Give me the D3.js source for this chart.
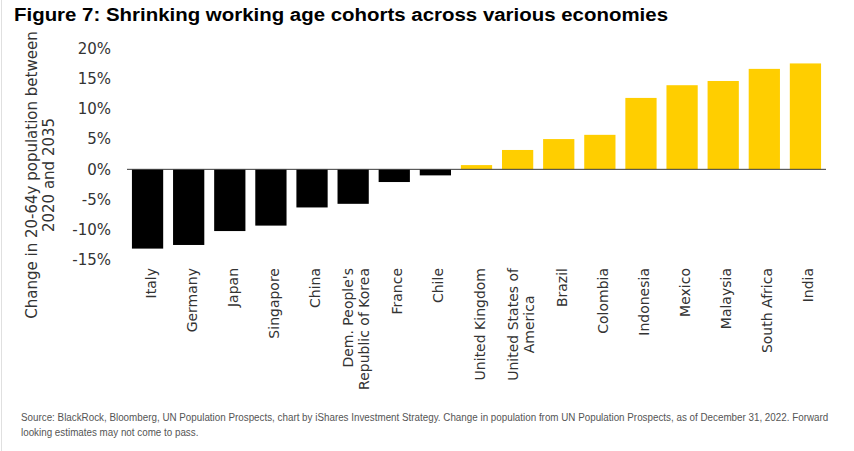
<!DOCTYPE html>
<html>
<head>
<meta charset="utf-8">
<script src="https://cdn.jsdelivr.net/npm/d3@7"></script>
<style>
  body { margin: 0; background: #fff; }
  .chart text { font-family: "DejaVu Sans", Verdana, sans-serif; fill: #333; }
  .chart .title { font-family: "Liberation Sans", Arial, sans-serif; font-weight: bold; fill: #000; }
  .chart .source { font-family: "Liberation Sans Narrow", "Liberation Sans", Arial, sans-serif; fill: #555; }
</style>
</head>
<body>
<svg class="chart"></svg>
<script>
// data
var countries = ["Italy", "Germany", "Japan", "Singapore", "China",
                 "Dem. People's\nRepublic of Korea", "France", "Chile", "United Kingdom",
                 "United States of\nAmerica", "Brazil", "Colombia", "Indonesia", "Mexico",
                 "Malaysia", "South Africa", "India"];
var change = [-13.1, -12.5, -10.2, -9.3, -6.3, -5.7, -2.1, -1.0, 0.7,
              3.2, 5.0, 5.7, 11.8, 13.9, 14.6, 16.6, 17.5];
var yTicks = [-15, -10, -5, 0, 5, 10, 15, 20];

var titleText = "Figure 7: Shrinking working age cohorts across various economies";
var yLabel = ["Change in 20-64y population between", "2020 and 2035"];
var sourceLines = [
  "Source: BlackRock, Bloomberg, UN Population Prospects, chart by iShares Investment Strategy. Change in population from UN Population Prospects, as of December 31, 2022. Forward",
  "looking estimates may not come to pass."
];

var width = 854,
    height = 451,
    plot = {left: 127, right: 826, top: 48.3, bottom: 260.1};

var x = d3.scaleBand()
  .domain(countries)
  .range([plot.left, plot.right])
  .paddingInner(0.24)
  .paddingOuter(0.12);

var y = d3.scaleLinear()
  .domain([-15, 20])
  .range([plot.bottom, plot.top]);

var svg = d3.select('.chart')
    .attr("width", width)
    .attr("height", height);

// faint frame on the left like the screenshot
svg.append("line")
    .attr("x1", 1.5).attr("x2", 1.5)
    .attr("y1", 0).attr("y2", height)
    .attr("stroke", "#e0e0e0");

svg.append("text")
    .attr("class", "title")
    .attr("x", 14)
    .attr("y", 21)
    .attr("font-size", 18)
    .attr("textLength", 654)
    .attr("lengthAdjust", "spacingAndGlyphs")
    .text(titleText);

// bars
svg.append("g")
  .selectAll("rect")
    .data(change)
  .enter().append("rect")
    .attr("x", (d, i) => x(countries[i]))
    .attr("width", x.bandwidth())
    .attr("y", d => y(Math.max(0, d)))
    .attr("height", d => Math.abs(y(d) - y(0)))
    .attr("fill", d => d < 0 ? "#000" : "#ffce00");

// zero line
svg.append("line")
    .attr("x1", plot.left)
    .attr("x2", plot.right)
    .attr("y1", y(0))
    .attr("y2", y(0))
    .attr("stroke", "#3a3a3a")
    .attr("stroke-width", 1);

// y axis (labels only)
var yAxis = d3.axisLeft()
  .scale(y)
  .tickValues(yTicks)
  .tickSize(0)
  .tickPadding(3)
  .tickFormat(d => d + "%");

var yg = svg.append("g")
    .attr("class", "y axis")
    .attr("transform", "translate(114,0)")
    .call(yAxis);
yg.select(".domain").remove();
yg.selectAll("text")
    .attr("font-size", 15)
    .attr("font-family", null)
    .attr("fill", "#333");

// y axis title
var yt = svg.append("text")
    .attr("transform", "translate(0,175) rotate(-90)")
    .attr("text-anchor", "middle")
    .attr("font-size", 15);
yt.selectAll("tspan")
    .data(yLabel)
  .enter().append("tspan")
    .attr("x", 0)
    .attr("y", (d, i) => 37 + i * 17)
    .text(d => d);

// rotated category labels
var lab = svg.append("g")
  .selectAll("g")
    .data(countries)
  .enter().append("g")
    .attr("transform", d => `translate(${x(d) + x.bandwidth() / 2},268) rotate(-90)`);

lab.each(function(d) {
  var g = d3.select(this),
      lines = d.split("\n"),
      n = lines.length,
      firstLen = 0;
  lines.forEach((line, i) => {
    var t = g.append("text")
        .attr("font-size", 14)
        .attr("text-anchor", "end")
        .attr("x", 0)
        .attr("y", 8 + (i - (n - 1) / 2) * 16)
        .text(line);
    var len = t.node().getComputedTextLength();
    if (i === 0) {
      firstLen = len;
    } else if (len < firstLen) {
      // shorter wrapped lines sit centred under the first one
      t.attr("text-anchor", "middle").attr("x", -firstLen / 2);
    }
  });
});

// source note - condensed to fit the width, as in the original
var src = svg.append("g")
  .selectAll("text")
    .data(sourceLines)
  .enter().append("text")
    .attr("class", "source")
    .attr("x", 0)
    .attr("y", 0)
    .attr("font-size", 11.5)
    .text(d => d);

var squeeze = 808 / src.nodes()[0].getComputedTextLength();
src.attr("transform", (d, i) => `translate(21,${421 + i * 15}) scale(${Math.min(1, squeeze)},1)`);
</script>
</body>
</html>
